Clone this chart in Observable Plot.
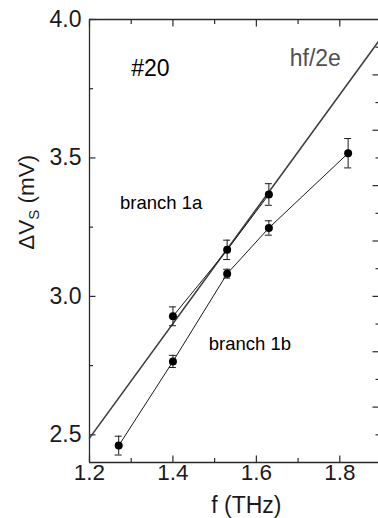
<!DOCTYPE html>
<html>
<head>
<meta charset="utf-8">
<script src="https://cdn.jsdelivr.net/npm/d3@7"></script>
<script src="https://cdn.jsdelivr.net/npm/@observablehq/plot@0.6"></script>
<style>
  html, body { margin: 0; padding: 0; background: #fff; }
</style>
</head>
<body>
<div id="chart"></div>
<script>
// ---- data ----
const branch1aF = [1.40, 1.53, 1.63];
const branch1aV = [2.928, 3.168, 3.368];
const branch1aErr = [0.034, 0.035, 0.039];

const branch1bF = [1.27, 1.40, 1.53, 1.63, 1.82];
const branch1bV = [2.461, 2.765, 3.082, 3.247, 3.517];
const branch1bErr = [0.034, 0.022, 0.016, 0.026, 0.053];

const hfLineF = [1.2, 1.9];
const hfLineV = [2.488, 3.936];

const xMajorTicks = [1.2, 1.4, 1.6, 1.8];
const xMinorTicks = [1.3, 1.5, 1.7, 1.9];
const yMajorTicks = [2.5, 3.0, 3.5, 4.0];
const yMinorTicks = [2.75, 3.25, 3.75];
const rightMajorTicks = [2.6, 2.8, 3.0, 3.2, 3.4, 3.6, 3.8];
const rightMinorTicks = [2.5, 2.7, 2.9, 3.1, 3.3, 3.5, 3.7, 3.9];

const labels = {
  sample: "#20",
  line: "hf/2e",
  a: "branch 1a",
  b: "branch 1b",
  xTitle: "f (THz)",
  yTitle: "ΔVS (mV)"
};

// ---- tables built from arrays ----
const dataA = branch1aF.map((f, i) => ({f, v: branch1aV[i], e: branch1aErr[i]}));
const dataB = branch1bF.map((f, i) => ({f, v: branch1bV[i], e: branch1bErr[i]}));
const hfData = hfLineF.map((f, i) => ({f, v: hfLineV[i]}));

const FONT = "'Liberation Sans', Arial, Helvetica, sans-serif";
const INK = "#1a1a1a";
const FRAME = "#2a2a2a";

function series(data) {
  return [
    Plot.line(data, {x: "f", y: "v", stroke: INK, strokeWidth: 1}),
    Plot.ruleX(data, {x: "f", y1: d => d.v - d.e, y2: d => d.v + d.e, stroke: INK, strokeWidth: 1}),
    Plot.ruleY(data, {y: d => d.v + d.e, x1: "f", x2: "f", insetLeft: -3.5, insetRight: -3.5, stroke: INK, strokeWidth: 1}),
    Plot.ruleY(data, {y: d => d.v - d.e, x1: "f", x2: "f", insetLeft: -3.5, insetRight: -3.5, stroke: INK, strokeWidth: 1}),
    Plot.dot(data, {x: "f", y: "v", r: 4, fill: "#000", stroke: "none"})
  ];
}

const svg = Plot.plot({
  width: 378,
  height: 518,
  marginLeft: 89,
  marginRight: 0,
  marginTop: 19,
  marginBottom: 56,
  style: {fontFamily: FONT, background: "#fff", color: INK},
  x: {domain: [1.2, 1.9], range: [89, 381]},
  y: {domain: [2.4, 4.0], range: [462, 19]},
  marks: [
    // frame
    Plot.ruleX([1.2, 1.9], {stroke: FRAME, strokeWidth: 1.3}),
    Plot.ruleY([2.4, 4.0], {stroke: FRAME, strokeWidth: 1.3}),
    // inward ticks
    Plot.axisX(xMajorTicks, {anchor: "bottom", tickSize: -6.5, fill: "none", label: null, stroke: FRAME, strokeWidth: 1.2}),
    Plot.axisX(xMinorTicks, {anchor: "bottom", tickSize: -4, fill: "none", label: null, stroke: FRAME, strokeWidth: 1.2}),
    Plot.axisX(xMajorTicks, {anchor: "top", tickSize: -6.5, fill: "none", label: null, stroke: FRAME, strokeWidth: 1.2}),
    Plot.axisX(xMinorTicks, {anchor: "top", tickSize: -4, fill: "none", label: null, stroke: FRAME, strokeWidth: 1.2}),
    Plot.axisY(yMajorTicks, {anchor: "left", tickSize: -6.5, fill: "none", label: null, stroke: FRAME, strokeWidth: 1.2}),
    Plot.axisY(yMinorTicks, {anchor: "left", tickSize: -4, fill: "none", label: null, stroke: FRAME, strokeWidth: 1.2}),
    Plot.axisY(rightMajorTicks, {anchor: "right", tickSize: -6.5, fill: "none", label: null, stroke: FRAME, strokeWidth: 1.2}),
    Plot.axisY(rightMinorTicks, {anchor: "right", tickSize: -3.5, fill: "none", label: null, stroke: FRAME, strokeWidth: 1.2}),
    // tick labels
    Plot.axisX(xMajorTicks, {anchor: "bottom", tickSize: 0, tickPadding: 2, tickFormat: d3.format(".1f"), fontSize: 22.5, fill: INK, label: null}),
    Plot.axisY(yMajorTicks, {anchor: "left", tickSize: 0, tickPadding: 8, tickFormat: d3.format(".1f"), fontSize: 23, fill: INK, label: null}),
    // hf/2e line
    Plot.line(hfData, {x: "f", y: "v", stroke: "#404040", strokeWidth: 1.6}),
    // data series
    ...series(dataB),
    ...series(dataA),
    // annotations
    Plot.text([labels.sample], {x: 1.30, y: 3.795, text: d => d, textAnchor: "start", lineAnchor: "bottom", fontSize: 23, fill: "#000"}),
    Plot.text([labels.line], {x: 1.68, y: 3.831, text: d => d, textAnchor: "start", lineAnchor: "bottom", fontSize: 23, fill: "#505050"}),
    Plot.text([labels.a], {x: 1.273, y: 3.317, text: d => d, textAnchor: "start", lineAnchor: "bottom", fontSize: 18.5, fill: "#000"}),
    Plot.text([labels.b], {x: 1.486, y: 2.808, text: d => d, textAnchor: "start", lineAnchor: "bottom", fontSize: 18.5, fill: "#000"}),
    // axis titles
    Plot.text([labels.xTitle], {x: 1.576, frameAnchor: "bottom", dy: 50, text: d => d, textAnchor: "middle", lineAnchor: "bottom", fontSize: 23, fill: INK}),
    Plot.text([labels.yTitle], {y: 3.34, frameAnchor: "left", dx: -56, rotate: -90, text: d => d, textAnchor: "middle", lineAnchor: "bottom", fontSize: 22.5, fill: INK})
  ]
});

document.getElementById("chart").appendChild(svg);

// subscript for the y title
d3.select(svg).selectAll("text").filter(function () { return this.textContent === labels.yTitle; }).each(function () {
  const t = d3.select(this);
  t.text(null);
  t.append("tspan").text("ΔV");
  t.append("tspan").attr("font-size", "15px").attr("dy", "5").text("S");
  t.append("tspan").attr("dy", "-5").text(" (mV)");
});
</script>
</body>
</html>
